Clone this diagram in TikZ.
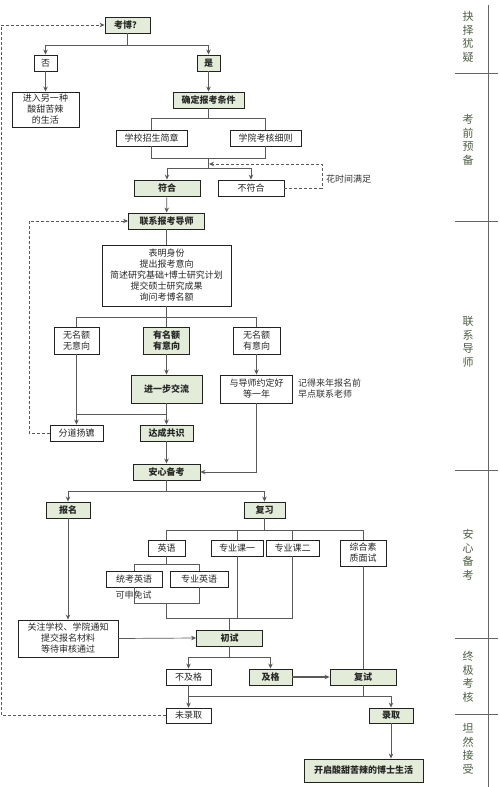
\documentclass[tikz,border=0pt]{standalone}
\usepackage{fontspec}
\setmainfont{Noto Sans CJK SC}
\usetikzlibrary{arrows.meta}
\definecolor{gfill}{HTML}{E2ECD8}
\definecolor{bordc}{HTML}{222222}
\definecolor{linec}{HTML}{5A5A5A}
\definecolor{secc}{HTML}{4A6040}
\tikzset{
  box/.style={draw=bordc, line width=0.9pt, fill=white, inner sep=0pt, align=center,
    font=\fontsize{9}{11}\selectfont, text=black!85},
  gbox/.style={box, fill=gfill, font=\fontsize{9}{11}\selectfont\bfseries},
  conn/.style={draw=linec, line width=0.7pt},
  arr/.style={conn, -{Stealth[length=5pt,width=4.5pt]}},
  dashconn/.style={draw=linec, line width=0.7pt, densely dashed, -{Stealth[length=5pt,width=4.5pt]}},
  note/.style={font=\fontsize{9}{11}\selectfont, text=black!80, align=left, inner sep=0pt},
  sec/.style={font=\fontsize{11}{13.5}\selectfont, text=secc, align=center, inner sep=0pt},
  secline/.style={draw=gray!80!black, line width=0.8pt}
}
\begin{document}
\begin{tikzpicture}[x=1pt,y=-1pt]
\useasboundingbox[fill=white] (0,0) rectangle (500,787);
% section column
\draw[secline] (488,5) -- (488,787);
\foreach \yy in {73,221,470,638,714} \draw[secline] (455,\yy) -- (498,\yy);
\node[sec] (s1) at (468,37) {抉\\择\\犹\\疑};
\node[sec] (s2) at (468,140) {考\\前\\预\\备};
\node[sec] (s3) at (468,342) {联\\系\\导\\师};
\node[sec] (s4) at (468,555) {安\\心\\备\\考};
\node[sec] (s5) at (468,677) {终\\极\\考\\核};
\node[sec] (s6) at (468,749) {坦\\然\\接\\受};
% nodes
\node[gbox, minimum width=45pt, minimum height=16pt] (kaobo) at (127.5,25) {考博？};
\node[box, minimum width=23pt, minimum height=16pt] (fou) at (45.5,63) {否};
\node[gbox, minimum width=23pt, minimum height=16pt] (shi) at (208.5,63) {是};
\node[box, minimum width=67pt, minimum height=35pt] (jinru) at (45.5,109.5) {进入另一种\\酸甜苦辣\\的生活};
\node[gbox, minimum width=71pt, minimum height=16pt] (queding) at (208.5,100) {确定报考条件};
\node[box, minimum width=71pt, minimum height=16pt] (xuexiao) at (151.5,138) {学校招生简章};
\node[box, minimum width=71pt, minimum height=16pt] (xueyuan) at (265.5,138) {学院考核细则};
\node[gbox, minimum width=66pt, minimum height=16pt] (fuhe) at (167,188) {符合};
\node[box, minimum width=66pt, minimum height=16pt] (bufuhe) at (251,188) {不符合};
\node[note, anchor=west] (huashijian) at (326,179) {花时间满足};
\node[gbox, minimum width=76pt, minimum height=16pt] (lianxi) at (166.5,221) {联系报考导师};
\node[box, minimum width=129pt, minimum height=61pt] (big) at (166.5,275.5)
  {表明身份\\提出报考意向\\简述研究基础+博士研究计划\\提交硕士研究成果\\询问考博名额};
\node[box, minimum width=45pt, minimum height=27pt] (wuwu) at (76.5,340.5) {无名额\\无意向};
\node[gbox, minimum width=46pt, minimum height=27pt] (youyou) at (166.5,340.5) {有名额\\有意向};
\node[box, minimum width=47pt, minimum height=27pt] (wuyou) at (256.5,340.5) {无名额\\有意向};
\node[gbox, minimum width=71pt, minimum height=28pt] (jinyibu) at (166.5,389) {进一步交流};
\node[box, minimum width=72pt, minimum height=28pt] (yudaoshi) at (256.5,389) {与导师约定好\\等一年};
\node[note, anchor=west] (jide) at (298,389) {记得来年报名前\\早点联系老师};
\node[box, minimum width=53pt, minimum height=16pt] (fendao) at (76.5,433) {分道扬镳};
\node[gbox, minimum width=53pt, minimum height=16pt] (dacheng) at (166.5,433) {达成共识};
\node[gbox, minimum width=67pt, minimum height=16pt] (anxin) at (166.5,472) {安心备考};
\node[gbox, minimum width=44pt, minimum height=16pt] (baoming) at (68,510) {报名};
\node[gbox, minimum width=41pt, minimum height=16pt] (fuxi) at (264.5,510) {复习};
\node[box, minimum width=37pt, minimum height=16pt] (yingyu) at (166.5,548) {英语};
\node[box, minimum width=52pt, minimum height=16pt] (zy1) at (237,548) {专业课一};
\node[box, minimum width=53pt, minimum height=16pt] (zy2) at (292.5,548) {专业课二};
\node[box, minimum width=46pt, minimum height=26pt] (zonghe) at (363,553) {综合素\\质面试};
\node[box, minimum width=56pt, minimum height=16pt] (tongkao) at (134,579) {统考英语};
\node[box, minimum width=58pt, minimum height=16pt] (zyyy) at (199,579) {专业英语};
\node[note] (kemian) at (133.5,595) {可申免试};
\node[box, minimum width=100pt, minimum height=37pt] (guanzhu) at (68,638.5) {关注学校、学院通知\\提交报名材料\\等待审核通过};
\node[gbox, minimum width=66pt, minimum height=16pt] (chushi) at (229.5,638) {初试};
\node[box, minimum width=45pt, minimum height=16pt] (bujige) at (188.5,677) {不及格};
\node[gbox, minimum width=43pt, minimum height=16pt] (jige) at (270.5,677) {及格};
\node[gbox, minimum width=66pt, minimum height=16pt] (fushi) at (363,677) {复试};
\node[box, minimum width=45pt, minimum height=15pt] (weiluqu) at (188.5,715.5) {未录取};
\node[gbox, minimum width=44pt, minimum height=15pt] (luqu) at (391,715.5) {录取};
\node[gbox, minimum width=119pt, minimum height=23pt] (kaiqi) at (363.5,770.5) {开启酸甜苦辣的博士生活};
% junction coordinates
\coordinate (j1) at (127.5,45);
\coordinate (j2) at (208.5,118);
\coordinate (j3a) at (151.5,158);
\coordinate (j3b) at (265.5,158);
\coordinate (j3) at (208.5,158);
\coordinate (j4) at (208.5,168);
\coordinate (j4d) at (209,164);
\coordinate (d1) at (322,188);
\coordinate (j5) at (166.5,317);
\coordinate (j6) at (166.5,414);
\coordinate (j6a) at (76.5,414);
\coordinate (d2) at (29,433);
\coordinate (d2b) at (29,221);
\coordinate (j8) at (166.5,491);
\coordinate (j9) at (264.5,530);
\coordinate (j10) at (166.5,564);
\coordinate (j11a) at (134,603);
\coordinate (j11b) at (199,603);
\coordinate (j11) at (166.5,603);
\coordinate (j12) at (166.5,618);
\coordinate (j12b) at (292.5,618);
\coordinate (j12c) at (237,618);
\coordinate (j12m) at (229.5,618);
\coordinate (j13) at (229.5,657);
\coordinate (j14) at (363,696);
\coordinate (j14a) at (188.5,696);
\coordinate (j14b) at (391,696);
\coordinate (d3) at (1,715.5);
\coordinate (d3b) at (1,25);
% connectors
\draw[conn] (kaobo.south) -- (j1);
\draw[arr] (j1) -| (fou.north);
\draw[arr] (j1) -| (shi.north);
\draw[arr] (fou) -- (jinru);
\draw[arr] (shi) -- (queding);
\draw[conn] (queding.south) -- (j2);
\draw[conn] (j2) -| (xuexiao.north);
\draw[conn] (j2) -| (xueyuan.north);
\draw[conn] (xuexiao.south) -- (j3a) -- (j3b) -- (xueyuan.south);
\draw[conn] (j3) -- (j4);
\draw[arr] (j4) -| (fuhe.north);
\draw[arr] (j4) -| (bufuhe.north);
\draw[dashconn] (bufuhe.east) -- (d1) |- (j4d);
\draw[arr] (fuhe) -- (lianxi);
\draw[conn] (lianxi) -- (big);
\draw[conn] (big.south) -- (j5);
\draw[conn] (j5) -| (wuwu.north);
\draw[conn] (j5) -| (wuyou.north);
\draw[conn] (j5) -- (youyou.north);
\draw[arr] (youyou) -- (jinyibu);
\draw[arr] (wuyou) -- (yudaoshi);
\draw[arr] (wuwu) -- (fendao);
\draw[conn] (jinyibu.south) -- (j6) -- (j6a);
\draw[arr] (j6) -- (dacheng.north);
\draw[dashconn] (fendao.west) -- (d2) -- (d2b) -- (lianxi.west);
\draw[arr] (dacheng) -- (anxin);
\draw[arr] (yudaoshi.south) |- (anxin.east);
\draw[conn] (anxin.south) -- (j8);
\draw[arr] (j8) -| (baoming.north);
\draw[arr] (j8) -| (fuxi.north);
\draw[conn] (fuxi.south) -- (j9);
\draw[conn] (j9) -| (yingyu.north);
\draw[conn] (j9) -| (zy1.north);
\draw[conn] (j9) -| (zy2.north);
\draw[conn] (j9) -| (zonghe.north);
\draw[conn] (yingyu.south) -- (j10);
\draw[conn] (j10) -| (tongkao.north);
\draw[conn] (j10) -| (zyyy.north);
\draw[conn] (tongkao.south) -- (j11a) -- (j11b) -- (zyyy.south);
\draw[conn] (j11) -- (j12) -- (j12b) -- (zy2.south);
\draw[conn] (zy1.south) -- (j12c);
\draw[conn] (j12m) -- (chushi.north);
\draw[arr] (baoming) -- (guanzhu);
\draw[arr] (guanzhu.east) -- (chushi.west);
\draw[conn] (chushi.south) -- (j13);
\draw[arr] (j13) -| (bujige.north);
\draw[arr] (j13) -| (jige.north);
\draw[arr, line width=1.2pt] (jige) -- (fushi);
\draw[conn] (zonghe.south) -- (fushi.north);
\draw[conn] (fushi.south) -- (j14);
\draw[arr] (bujige) -- (weiluqu);
\draw[conn] (j14a) -- (j14b);
\draw[arr] (j14b) -- (luqu.north);
\draw[dashconn] (weiluqu.west) -- (d3) -- (d3b) -- (kaobo.west);
\draw[arr] (luqu.south) -- (luqu.south |- kaiqi.north);
\end{tikzpicture}
\end{document}
